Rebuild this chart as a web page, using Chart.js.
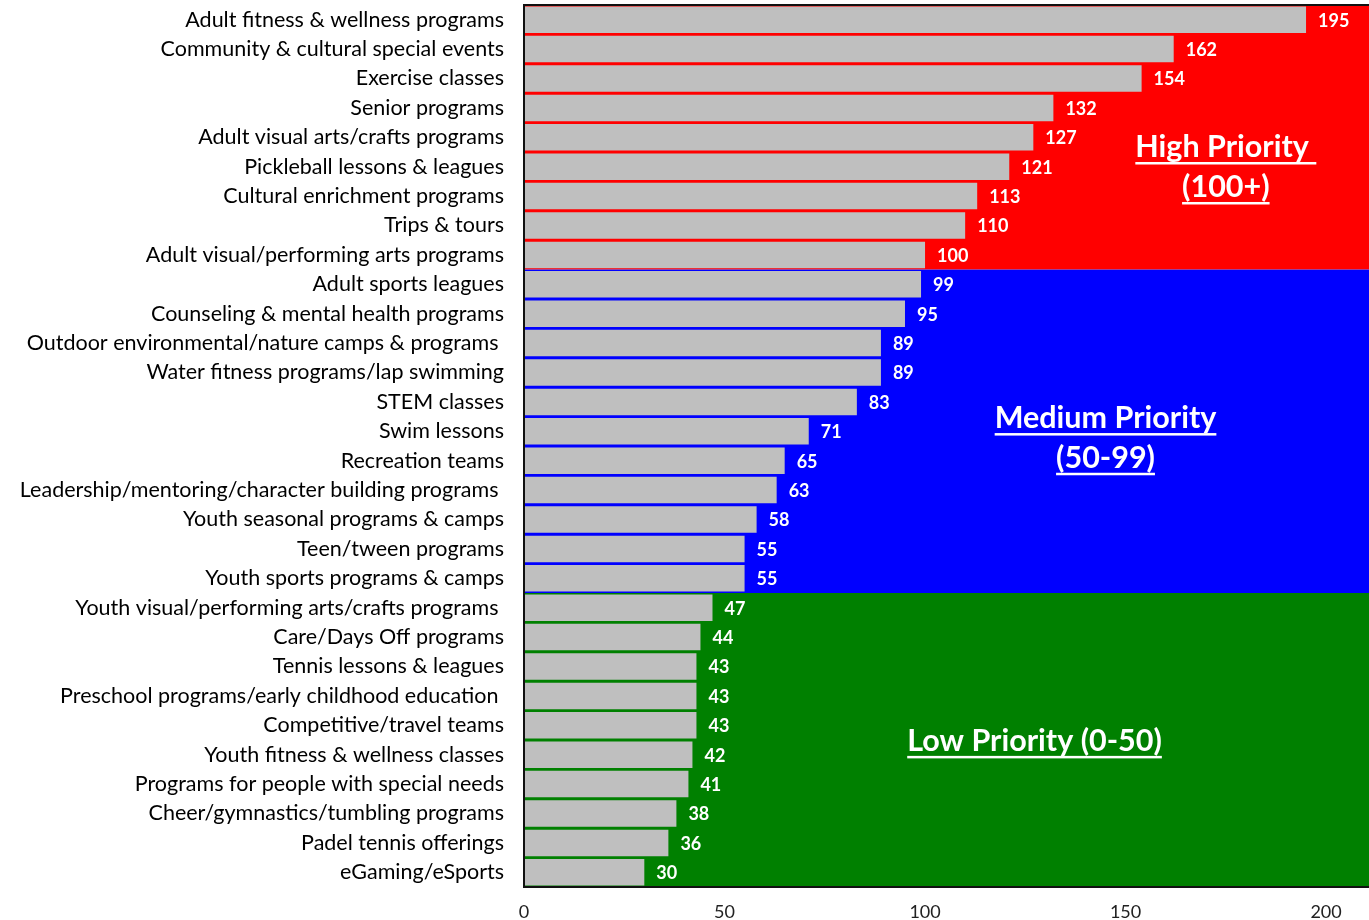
<!DOCTYPE html>
<html>
<head>
<meta charset="utf-8">
<script src="https://cdn.jsdelivr.net/npm/chart.js@4/dist/chart.umd.min.js"></script>
<style>
html,body{margin:0;padding:0;background:#fff;}
#wrap{width:1369px;height:920px;position:relative;}
</style>
</head>
<body>
<div id="wrap"><canvas id="c"></canvas></div>
<script>
const categories = [
  "Adult fitness & wellness programs",
  "Community & cultural special events",
  "Exercise classes",
  "Senior programs",
  "Adult visual arts/crafts programs",
  "Pickleball lessons & leagues",
  "Cultural enrichment programs",
  "Trips & tours",
  "Adult visual/performing arts programs",
  "Adult sports leagues",
  "Counseling & mental health programs",
  "Outdoor environmental/nature camps & programs ",
  "Water fitness programs/lap swimming",
  "STEM classes",
  "Swim lessons",
  "Recreation teams",
  "Leadership/mentoring/character building programs ",
  "Youth seasonal programs & camps",
  "Teen/tween programs",
  "Youth sports programs & camps",
  "Youth visual/performing arts/crafts programs ",
  "Care/Days Off programs",
  "Tennis lessons & leagues",
  "Preschool programs/early childhood education ",
  "Competitive/travel teams",
  "Youth fitness & wellness classes",
  "Programs for people with special needs",
  "Cheer/gymnastics/tumbling programs",
  "Padel tennis offerings",
  "eGaming/eSports"
];
const values = [195,162,154,132,127,121,113,110,100,99,95,89,89,83,71,65,63,58,55,55,47,44,43,43,43,42,41,38,36,30];
const xTicks = [0,50,100,150,200];

// priority bands: first and last category index in each band
const bandNames = ["High", "Medium", "Low"];
const bandFirst = [0, 9, 20];
const bandLast  = [8, 19, 29];
const bandColors = ["#FF0000", "#0000FF", "#008000"];
const bandTitleLines = [["High Priority ", "(100+)"], ["Medium Priority", "(50-99)"], ["Low Priority (0-50)"]];
// text anchors in data units (x value, category position)
const bandTextX = [175, 145, 127.3];
const bandTextY = [[4.33, 5.69], [13.55, 14.9], [24.53]];

const FONT = "Lato, 'Open Sans', sans-serif";

const bandsPlugin = {
  id: 'bands',
  beforeDatasetsDraw(chart) {
    const {ctx, chartArea, scales:{x, y}} = chart;
    ctx.save();
    for (let b = 0; b < bandNames.length; b++) {
      const top = b === 0 ? chartArea.top : (y.getPixelForValue(bandFirst[b]) + y.getPixelForValue(bandFirst[b]-1)) / 2;
      const bot = b === bandNames.length-1 ? chartArea.bottom : (y.getPixelForValue(bandLast[b]) + y.getPixelForValue(bandLast[b]+1)) / 2;
      ctx.fillStyle = bandColors[b];
      ctx.fillRect(chartArea.left, top, chartArea.right - chartArea.left, bot - top);
    }
    ctx.restore();
  },
  afterDatasetsDraw(chart) {
    const {ctx, chartArea, scales:{x, y}} = chart;
    ctx.save();
    // value labels
    ctx.fillStyle = '#fff';
    ctx.font = "bold 18px " + FONT;
    ctx.textAlign = 'left';
    ctx.textBaseline = 'middle';
    const meta = chart.getDatasetMeta(0);
    meta.data.forEach((bar, i) => {
      ctx.fillText(String(values[i]), bar.x + 12, bar.y + 1);
    });
    // band titles
    ctx.font = "bold 30.5px " + FONT;
    ctx.textAlign = 'center';
    ctx.textBaseline = 'middle';
    for (let b = 0; b < bandNames.length; b++) {
      const cx = x.getPixelForValue(bandTextX[b]);
      bandTitleLines[b].forEach((line, k) => {
        const cy = y.getPixelForValue(bandTextY[b][k]);
        ctx.fillText(line, cx, cy);
        const w = ctx.measureText(line).width;
        ctx.fillRect(cx - w/2, cy + 15, w, 2.5);
      });
    }
    // frame
    ctx.strokeStyle = '#111';
    ctx.lineWidth = 2;
    ctx.beginPath();
    ctx.moveTo(chartArea.right, chartArea.top);
    ctx.lineTo(chartArea.left, chartArea.top);
    ctx.lineTo(chartArea.left, chartArea.bottom);
    ctx.lineTo(chartArea.right, chartArea.bottom);
    ctx.stroke();
    ctx.restore();
  }
};

new Chart(document.getElementById('c'), {
  type: 'bar',
  data: {
    labels: categories,
    datasets: [{
      data: values,
      backgroundColor: '#BFBFBF',
      borderWidth: 0,
      barPercentage: 0.9,
      categoryPercentage: 1.0
    }]
  },
  options: {
    indexAxis: 'y',
    responsive: true,
    maintainAspectRatio: false,
    animation: false,
    layout: { padding: { top: 5, right: 0, left: 0, bottom: 0 } },
    plugins: { legend: { display: false }, tooltip: { enabled: false } },
    scales: {
      x: {
        min: 0, max: 210.7,
        afterBuildTicks(scale) { scale.ticks = xTicks.map(v => ({value: v})); },
        afterFit(scale) { scale.paddingLeft = 0; scale.paddingRight = 0; scale.height = 33; },
        grid: { display: false, drawTicks: false },
        border: { display: false },
        ticks: { color: '#222', font: { size: 18, family: FONT }, padding: 14, maxRotation: 0 }
      },
      y: {
        afterFit(scale) { scale.width = 524; scale.paddingTop = 0; scale.paddingBottom = 0; },
        grid: { display: false, drawTicks: false },
        border: { display: false },
        ticks: { color: '#000', font: { size: 21.5, family: FONT }, padding: 20, autoSkip: false }
      }
    }
  },
  plugins: [bandsPlugin]
});
</script>
</body>
</html>
